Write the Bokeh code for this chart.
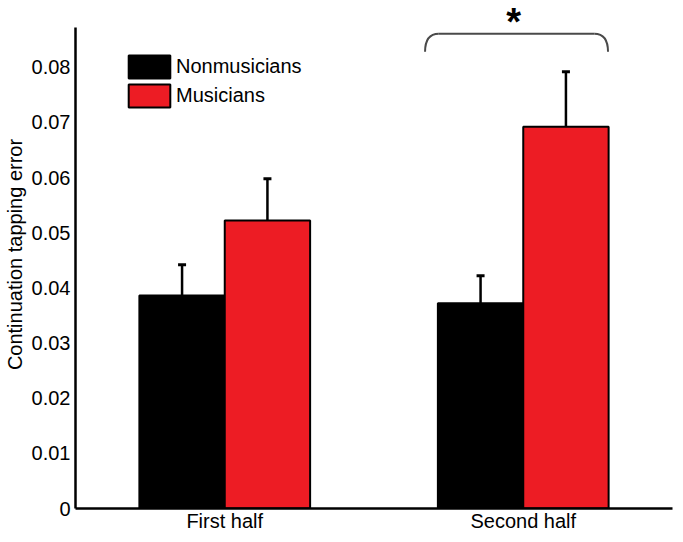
from bokeh.plotting import figure
from bokeh.models import (ColumnDataSource, FactorRange, Range1d, FixedTicker, Whisker,
                          TeeHead, Legend, LegendItem)
from bokeh.transform import dodge
from bokeh.core.properties import value
from bokeh.embed import file_html
from bokeh.resources import INLINE

# ---- data ----
categories = ["First half", "Second half"]
groups = ["Nonmusicians", "Musicians"]
nonmusicians = [0.0386, 0.0372]
nonmusicians_err = [0.0056, 0.0050]
musicians = [0.0522, 0.0692]
musicians_err = [0.0076, 0.0100]
y_ticks = [0, 0.01, 0.02, 0.03, 0.04, 0.05, 0.06, 0.07, 0.08]
y_tick_labels = ["0", "0.01", "0.02", "0.03", "0.04", "0.05", "0.06", "0.07", "0.08"]
sig_label = "*"

FONT = "Liberation Sans"
RED = "#ED1C24"
BW = 0.286

src = ColumnDataSource(dict(
    cat=categories,
    non=nonmusicians,
    non_lo=[v - e for v, e in zip(nonmusicians, nonmusicians_err)],
    non_hi=[v + e for v, e in zip(nonmusicians, nonmusicians_err)],
    mus=musicians,
    mus_lo=[v - e for v, e in zip(musicians, musicians_err)],
    mus_hi=[v + e for v, e in zip(musicians, musicians_err)],
))

p = figure(width=675, height=534, x_range=FactorRange(*categories, range_padding=0),
           y_range=Range1d(0, 0.0921), output_backend="svg", toolbar_location=None,
           min_border_left=69, min_border_right=3, min_border_top=0, min_border_bottom=24)
p.outline_line_color = None
p.xgrid.grid_line_color = None
p.ygrid.grid_line_color = None

r_non = p.vbar(x=dodge("cat", -BW / 2, range=p.x_range), top="non", width=BW, source=src,
               fill_color="black", line_color="black", line_width=2)
r_mus = p.vbar(x=dodge("cat", BW / 2, range=p.x_range), top="mus", width=BW, source=src,
               fill_color=RED, line_color="black", line_width=2)

for col, off in (("non", -BW / 2), ("mus", BW / 2)):
    w = Whisker(source=src, base=dodge("cat", off, range=p.x_range),
                lower=col + "_lo", upper=col + "_hi", line_color="black", line_width=2.5,
                upper_head=TeeHead(size=8, line_width=3, line_color="black"),
                lower_head=TeeHead(size=8, line_width=3, line_color="black"))
    p.add_layout(w)

# significance bracket over the second half
bx0, bx1 = 1.171, 1.784
by_top, by_end = 0.08609, 0.08279
rx = 0.046
br_col = "#4a4a4a"
p.segment(x0=[bx0 + rx], y0=[by_top], x1=[bx1 - rx], y1=[by_top], line_color=br_col, line_width=2)
p.quadratic(x0=[bx0, bx1], y0=[by_end, by_end], x1=[bx0 + rx, bx1 - rx], y1=[by_top, by_top],
            cx=[bx0, bx1], cy=[by_top, by_top], line_color=br_col, line_width=2)
p.text(x=[(bx0 + bx1) / 2 - 0.01], y=[0.0882], text=[sig_label], text_font=value(FONT),
       text_font_size="38px", text_font_style="bold", text_align="center",
       text_baseline="alphabetic", text_color="black")

# axes
p.yaxis.ticker = FixedTicker(ticks=y_ticks)
p.yaxis.major_label_overrides = {t: l for t, l in zip(y_ticks, y_tick_labels)}
p.yaxis.bounds = (0, 0.0872)
p.yaxis.axis_label = "Continuation tapping error"
for ax in (p.xaxis[0], p.yaxis[0]):
    ax.axis_line_color = "black"
    ax.axis_line_width = 2.5
    ax.major_tick_in = 0
    ax.major_tick_out = 0
    ax.minor_tick_in = 0
    ax.minor_tick_out = 0
    ax.major_label_text_font = FONT
    ax.major_label_text_font_size = "20px"
    ax.major_label_text_color = "black"
    ax.axis_label_text_font = FONT
    ax.axis_label_text_font_size = "20px"
    ax.axis_label_text_font_style = "normal"
    ax.axis_label_text_color = "black"
p.yaxis.major_label_standoff = 5
p.yaxis.axis_label_standoff = 3
p.xaxis.major_label_standoff = 1

legend = Legend(items=[LegendItem(label=groups[0], renderers=[r_non]),
                       LegendItem(label=groups[1], renderers=[r_mus])],
                location=(48, 398), padding=0, spacing=0, glyph_width=52, glyph_height=29,
                label_standoff=1, label_text_font=FONT, label_text_font_size="20px",
                label_text_color="black", background_fill_alpha=0, border_line_alpha=0)
p.add_layout(legend)

open("out.html", "w").write(file_html(p, INLINE))
